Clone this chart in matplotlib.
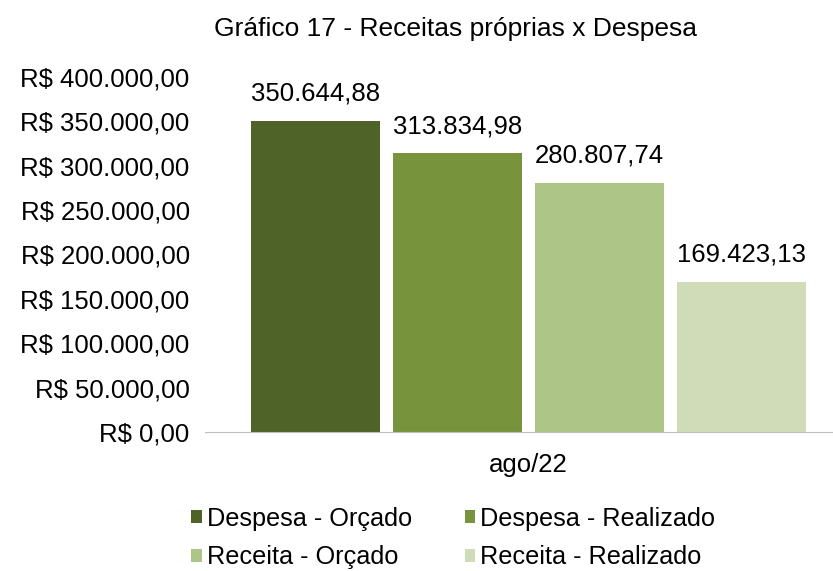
import matplotlib.pyplot as plt
import numpy as np

plt.rcParams['font.family'] = ['Liberation Sans', 'DejaVu Sans']

series = ['Despesa - Orçado', 'Despesa - Realizado', 'Receita - Orçado', 'Receita - Realizado']
values = [350644.88, 313834.98, 280807.74, 169423.13]
labels = ['350.644,88', '313.834,98', '280.807,74', '169.423,13']
colors = ['#4F6228', '#77933C', '#ADC687', '#D0DCB8']
category = 'ago/22'
yticks = np.arange(0, 400001, 50000)


def brl(v):
    s = f'{v:,.2f}'.replace(',', 'X').replace('.', ',').replace('X', '.')
    return 'R$ ' + s


fig = plt.figure(figsize=(8.33, 5.71), dpi=100)
ax = fig.add_axes([0.246, 0.2434, 0.754, 0.6218])

offsets = np.arange(len(values)) - 1.5
bars = []
for off, v, lab, c, name in zip(offsets, values, labels, colors, series):
    b = ax.bar(off, v, width=0.908, color=c, label=name)
    bars.append(b)
    ax.annotate(lab, (off, v), xytext=(0, 11), textcoords='offset points',
                ha='center', va='bottom', fontsize=18.5)

ax.set_xlim(-2.278, 2.144)
ax.set_ylim(0, 400000)
ax.set_yticks(yticks)
ax.set_yticklabels([brl(t) for t in yticks], fontsize=18.5)
ax.set_xticks([0])
ax.set_xticklabels([category], fontsize=18.5)
ax.tick_params(length=0)
ax.tick_params(axis='y', pad=11)
ax.tick_params(axis='x', pad=15)
for s in ['top', 'right', 'left']:
    ax.spines[s].set_visible(False)
ax.spines['bottom'].set_color('#BFBFBF')

fig.suptitle('Gráfico 17 - Receitas próprias x Despesa', fontsize=19, x=0.547, y=0.97)

# row-wise legend order
order = [0, 2, 1, 3]
fig.legend([bars[i] for i in order], [series[i] for i in order],
           loc='center', bbox_to_anchor=(0.544, 0.058), ncol=2, frameon=False,
           fontsize=18.2, handlelength=0.42, handleheight=0.42, handletextpad=0.18,
           columnspacing=2.1, labelspacing=0.57, borderpad=0.0)

fig.savefig('out.png', dpi=100)
